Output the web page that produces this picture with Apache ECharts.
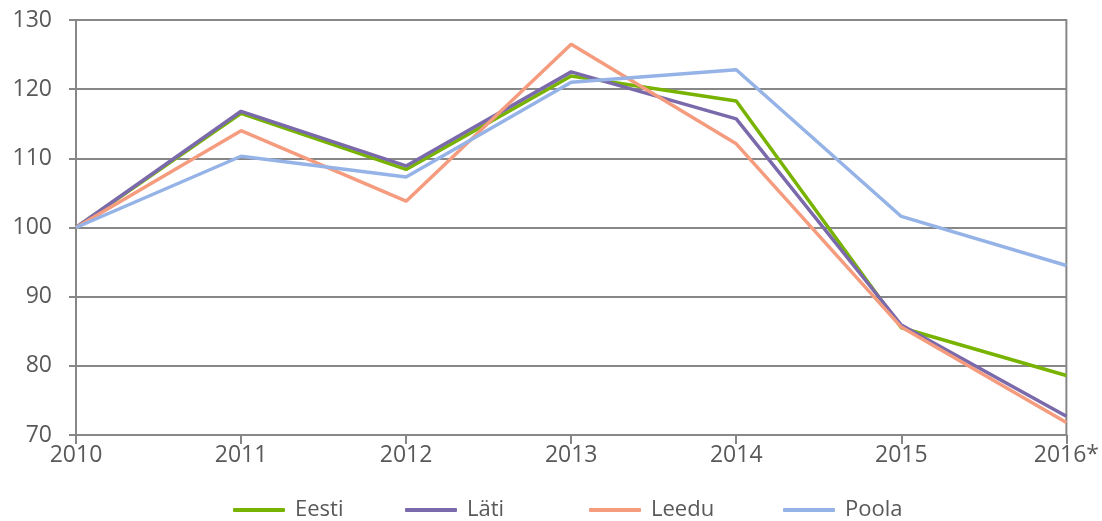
<!DOCTYPE html>
<html>
<head>
<meta charset="utf-8">
<script src="https://cdn.jsdelivr.net/npm/echarts@6/dist/echarts.min.js"></script>
<style>
  html, body { margin: 0; padding: 0; background: #fff; }
  #chart { width: 1102px; height: 521px; }
</style>
</head>
<body>
<div id="chart"></div>
<script>
var years = ['2010', '2011', '2012', '2013', '2014', '2015', '2016*'];
var eesti = [100, 116.5, 108.4, 121.9, 118.3, 85.5, 78.6];
var lati = [100, 116.8, 108.9, 122.5, 115.7, 85.9, 72.7];
var leedu = [100, 114.0, 103.8, 126.5, 112.1, 85.6, 71.8];
var poola = [100, 110.3, 107.3, 121.0, 122.8, 101.6, 94.5];
var seriesNames = ['Eesti', 'Läti', 'Leedu', 'Poola'];
var yTicks = { min: 70, max: 130, step: 10 };

var textColor = '#595959';
var lineGray = '#878787';
var fontName = 'Open Sans';
var legendLeft = [233, 405, 589, 783];

function line(name, values, color) {
    return {
        name: name,
        type: 'line',
        data: values,
        symbol: 'none',
        lineStyle: { color: color, width: 3.5 },
        itemStyle: { color: color }
    };
}

// Excel spreads the legend items unevenly, so one legend per item
var legends = seriesNames.map(function (name, i) {
    return {
        top: 499,
        left: legendLeft[i],
        padding: 0,
        icon: 'roundRect',
        itemWidth: 52,
        itemHeight: 4,
        textStyle: { color: textColor, fontSize: 22, fontFamily: fontName, padding: [0, 0, 0, 5] },
        data: [name]
    };
});

var chart = echarts.init(document.getElementById('chart'));
chart.setOption({
    animation: false,
    backgroundColor: '#fff',
    grid: {
        left: 76, right: 35, top: 20, bottom: 86,
        show: true, borderColor: lineGray, borderWidth: 2
    },
    legend: legends,
    xAxis: {
        type: 'category',
        data: years,
        boundaryGap: false,
        axisLine: { lineStyle: { color: lineGray, width: 2 } },
        axisTick: { show: true, length: 9, lineStyle: { color: lineGray, width: 2 } },
        axisLabel: { color: textColor, fontSize: 23, fontFamily: fontName, margin: 9 },
        splitLine: { show: false }
    },
    yAxis: {
        type: 'value',
        min: yTicks.min,
        max: yTicks.max,
        interval: yTicks.step,
        axisLine: { show: true, lineStyle: { color: lineGray, width: 2 } },
        axisTick: { show: true, length: 7, lineStyle: { color: lineGray, width: 2 } },
        axisLabel: { color: textColor, fontSize: 23, fontFamily: fontName, margin: 24 },
        splitLine: { lineStyle: { color: lineGray, width: 2 } }
    },
    series: [
        line('Eesti', eesti, '#77b300'),
        line('Läti', lati, '#7a69ab'),
        line('Leedu', leedu, '#f59c7f'),
        line('Poola', poola, '#95b3e6')
    ]
});
</script>
</body>
</html>
